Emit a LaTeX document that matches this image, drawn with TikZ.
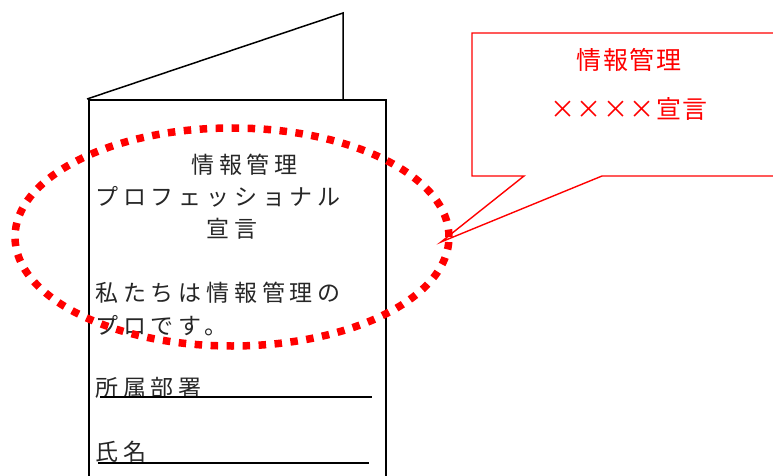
\documentclass[tikz,border=0pt]{standalone}
\usepackage{fontspec}
\newfontfamily\jpp[LetterSpace=21]{Noto Sans CJK JP}
\newfontfamily\jpc[LetterSpace=6]{Noto Sans CJK JP}
\begin{document}
\begin{tikzpicture}[x=1pt,y=-1pt,
  pagetxt/.style={anchor=west,inner sep=0pt,font=\jpp\fontsize{23}{27}\selectfont,text=black!85},
  calltxt/.style={inner sep=0pt,font=\jpc\fontsize{25}{30}\selectfont,text=red},
  edge/.style={line width=1.5pt,black},
  dotline/.style={red,line width=7.5pt,dash pattern=on 7.5pt off 8.5pt},
  callline/.style={red,line width=1.4pt,line join=miter}]
\useasboundingbox (0,0) rectangle (773,476);
\clip (0,0) rectangle (773,476);
% back page
\coordinate (bl) at (87,99);
\coordinate (bt) at (343,13);
\coordinate (bb) at (343,100);
\draw[edge] (bl) -- (bt) -- (bb);
% front page
\coordinate (fl) at (89,490);
\coordinate (ftl) at (89,100);
\coordinate (ftr) at (386,100);
\coordinate (fr) at (386,490);
\draw[edge] (fl) -- (ftl) -- (ftr) -- (fr);
% page texts
\node[pagetxt] (t1) at (191,165) {情報管理};
\node[pagetxt] (t2) at (95,197) {プロフェッショナル};
\node[pagetxt] (t3) at (206,229) {宣言};
\node[pagetxt] (t4) at (95,293) {私たちは情報管理の};
\node[pagetxt] (t5) at (95,326) {プロです。};
\node[pagetxt] (t6) at (95,388) {所属部署};
\node[pagetxt] (t7) at (95,452) {氏名};
\coordinate (u1a) at (100,397); \coordinate (u1b) at (372,397);
\coordinate (u2a) at (98,463); \coordinate (u2b) at (369,463);
\draw[edge] (u1a) -- (u1b);
\draw[edge] (u2a) -- (u2b);
% dotted ellipse
\node[draw=none] (ell) at (232,237) {};
\draw[dotline] (ell.center) ellipse [x radius=217pt, y radius=109pt];
% callout
\coordinate (ca) at (472,33);
\coordinate (cb) at (790,33);
\coordinate (cc) at (790,176);
\coordinate (cd) at (602,176);
\coordinate (tip) at (441,242);
\coordinate (ce) at (524,176);
\coordinate (cf) at (472,176);
\draw[callline] (ca) -- (cb) -- (cc) -- (cd) -- (tip) -- (ce) -- (cf) -- cycle;
\node[calltxt] (c1) at (629,60) {情報管理};
\node[calltxt] (c2) at (629,109) {××××宣言};
\end{tikzpicture}
\end{document}
